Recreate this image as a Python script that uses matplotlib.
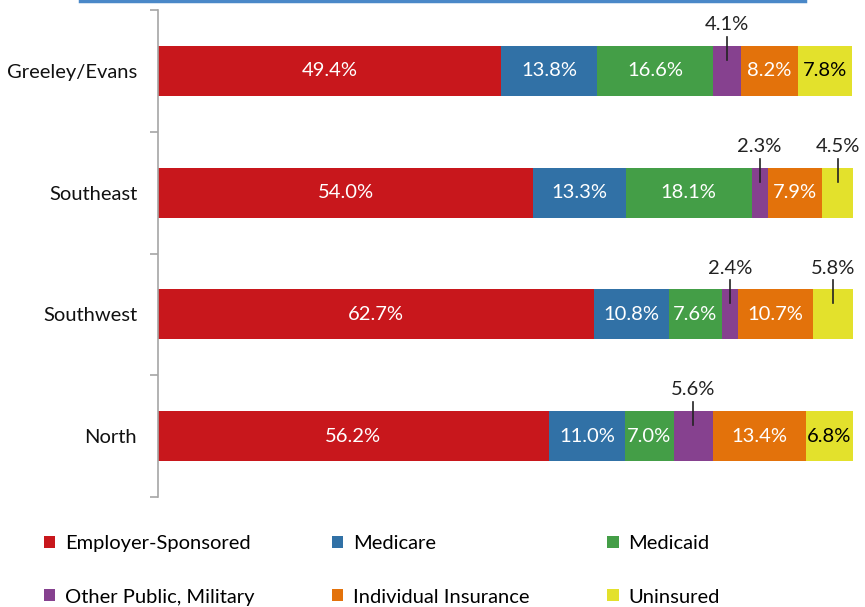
#stacked horizontal bars: health insurance coverage by region
import matplotlib
matplotlib.use("Agg")
import matplotlib.pyplot as plt
from matplotlib.patches import Patch
from matplotlib.lines import Line2D
import numpy as np

plt.rcParams['font.family'] = ['Lato', 'DejaVu Sans']

#data
regions = ['Greeley/Evans', 'Southeast', 'Southwest', 'North']
series_names = ['Employer-Sponsored', 'Medicare', 'Medicaid',
                'Other Public, Military', 'Individual Insurance', 'Uninsured']
employer = [49.4, 54.0, 62.7, 56.2]
medicare = [13.8, 13.3, 10.8, 11.0]
medicaid = [16.6, 18.1, 7.6, 7.0]
other_public = [4.1, 2.3, 2.4, 5.6]
individual = [8.2, 7.9, 10.7, 13.4]
uninsured = [7.8, 4.5, 5.8, 6.8]

series = [employer, medicare, medicaid, other_public, individual, uninsured]
colors = ['#C8171C', '#3171A6', '#449E47', '#86418F', '#E3720B', '#E3E12C']
text_colors = ['white', 'white', 'white', 'white', 'white', 'black']

fig = plt.figure(figsize=(8.65, 6.07), dpi=100)
ax = fig.add_axes([0.1827, 0.1812, 0.8035, 0.8023])

y = np.arange(len(regions))
left = np.zeros(len(regions))
for vals, col, tcol in zip(series, colors, text_colors):
    vals = np.array(vals)
    ax.barh(y, vals, left=left, height=0.41, color=col)
    for i in range(len(regions)):
        xc = left[i] + vals[i] / 2
        lab = '%.1f%%' % vals[i]
        if vals[i] < 6:
            # small segment: label above with leader line
            ax.plot([xc, xc], [y[i] - 0.28, y[i] - 0.09], color='#222222', lw=1.2)
            ax.text(xc, y[i] - 0.38, lab, ha='center', va='center',
                    fontsize=14.5, color='#222222')
        else:
            ax.text(xc, y[i], lab, ha='center', va='center',
                    fontsize=14.5, color=tcol)
    left = left + vals

ax.set_xlim(0, 100)
ax.set_ylim(len(regions) - 0.5, -0.5)
ax.set_yticks(y)
ax.set_yticklabels(regions, fontsize=14.5, color='#111111')
ax.set_yticks(np.arange(-0.5, len(regions)), minor=True)
ax.tick_params(axis='y', which='major', length=0, pad=15)
ax.tick_params(axis='y', which='minor', length=6, color='#A6A6A6', width=1.2)
ax.set_xticks([])
for s in ['top', 'right', 'bottom']:
    ax.spines[s].set_visible(False)
ax.spines['left'].set_color('#A6A6A6')
ax.spines['left'].set_linewidth(1.2)

#top border line
fig.add_artist(Line2D([80 / 865, 805 / 865], [0.998, 0.998], color='#4A88C8', lw=2.5,
                      transform=fig.transFigure))

#legend, column-wise order
order = [0, 3, 1, 4, 2, 5]
handles = [Patch(facecolor=colors[k], label=series_names[k]) for k in order]
fig.legend(handles=handles, ncol=3, loc='upper left', bbox_to_anchor=(0.03, 0.148),
           frameon=False, fontsize=14.5, handlelength=0.55, handleheight=0.55,
           handletextpad=0.5, columnspacing=3.85, labelspacing=1.8)

plt.savefig('out.png', dpi=100)
